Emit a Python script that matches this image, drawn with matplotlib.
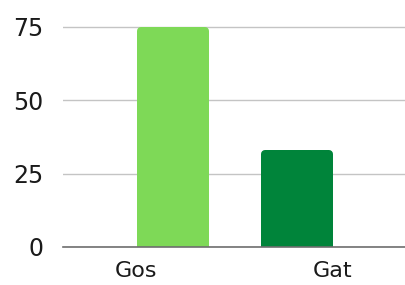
import numpy as np
import matplotlib.pyplot as plt

# data
categories = ["Gos", "Gat"]
values = [75, 33]
colors = ["#7ED957", "#00843A"]
yticks = [0, 25, 50, 75]

plt.rcParams['font.family'] = ['DejaVu Sans']

fig = plt.figure(figsize=(4.06, 2.85), dpi=100)
# axes box measured in pixels of the reference
ax = fig.add_axes([63 / 406, 1 - 247 / 285, 1 - 63 / 406, (247 - 11.8) / 285])

x = np.arange(len(categories))
px = 124.0  # pixels per x unit
r = 4.0     # corner radius in px
lw = 2 * r * 72 / 100
ppy = 73.5 / 25  # px per y unit
heights = [v - r / ppy for v in values]
ax.bar(x, heights, width=(72 - 2 * r) / px, color=colors, edgecolor=colors,
       linewidth=lw, joinstyle='round', zorder=3)

ax.set_xlim(-(173 - 63) / px, (406 - 173) / px)
ax.set_ylim(0, 80)

ax.set_yticks(yticks)
ax.set_yticklabels([str(t) for t in yticks], fontsize=17, color="#1a1a1a")
ax.yaxis.grid(True, color="#c4c4c4", linewidth=1.0, zorder=0)
ax.tick_params(axis='y', length=0, pad=14)

# category labels sit offset from the bars in the reference
ax.set_xticks([-(173 - 136) / px, (333 - 173) / px])
ax.set_xticklabels(categories, fontsize=16, color="#1a1a1a")
ax.tick_params(axis='x', length=0, pad=10)

for s in ["top", "right", "left"]:
    ax.spines[s].set_visible(False)
ax.spines["bottom"].set_color("#6e6e6e")
ax.spines["bottom"].set_linewidth(1.2)
ax.spines["bottom"].set_zorder(4)

fig.savefig("out.png", dpi=100)
